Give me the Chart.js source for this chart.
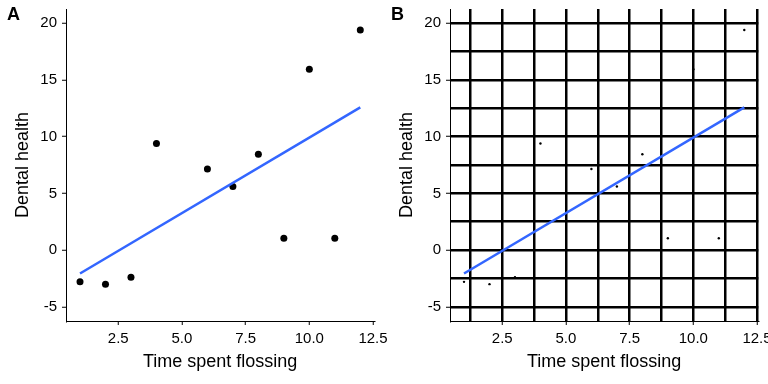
<!DOCTYPE html>
<html>
<head>
<meta charset="utf-8">
<script src="https://cdn.jsdelivr.net/npm/chart.js@4.4.0/dist/chart.umd.min.js"></script>
<style>
  body { margin: 0; background: #fff; }
  #wrap { position: relative; width: 768px; height: 384px; overflow: hidden; }
  canvas { position: absolute; top: 0; }
  #chartA { left: 0; }
  #chartB { left: 384px; }
  .tag { position: absolute; top: 4px; font: bold 18px "Liberation Sans", Arial, sans-serif; color: #000; }
</style>
</head>
<body>
<div id="wrap">
  <canvas id="chartA" width="400" height="384"></canvas>
  <canvas id="chartB" width="384" height="384"></canvas>
  <div class="tag" style="left:7px">A</div>
  <div class="tag" style="left:391px">B</div>
</div>
<script>
// values
const flossTime = [1, 2, 3, 4, 6, 7, 8, 9, 10, 11, 12];
const dentalHealth = [-2.8, -3.0, -2.4, 9.4, 7.15, 5.6, 8.45, 1.05, 15.95, 1.05, 19.4];
const fitTime = [1, 12];
const fitHealth = [-2.06, 12.58];

// ticks
const xTicks = [2.5, 5, 7.5, 10, 12.5];
const xTickLabels = ['2.5', '5.0', '7.5', '10.0', '12.5'];
const xMinor = [1.25, 3.75, 6.25, 8.75, 11.25];
const yTicks = [-5, 0, 5, 10, 15, 20];
const yTickLabels = ['-5', '0', '5', '10', '15', '20'];
const yMinor = [-2.5, 2.5, 7.5, 12.5, 17.5];

const xRange = [0.45, 12.55];
const yRange = [-6.25, 21.25];

Chart.defaults.font.family = '"Liberation Sans", Arial, sans-serif';
Chart.defaults.color = '#000';

function toPoints(xs, ys) {
  return xs.map((x, i) => ({ x: x, y: ys[i] }));
}

function axis(isX, ticks, labels, minor, range, title, withGrid) {
  let all = withGrid ? ticks.concat(minor).sort((a, b) => a - b) : ticks;
  return {
    type: 'linear',
    position: isX ? 'bottom' : 'left',
    min: range[0],
    max: range[1],
    afterBuildTicks: function (scale) {
      scale.ticks = all.map(v => ({ value: v }));
    },
    afterFit: function (scale) {
      if (isX) {
        scale.height = 63;
        scale.paddingLeft = 0;
        scale.paddingRight = 0;
      } else {
        scale.width = 66;
        scale.paddingTop = 0;
        scale.paddingBottom = 0;
      }
    },
    ticks: {
      autoSkip: false,
      maxRotation: 0,
      padding: 5,
      font: { size: 15 },
      color: '#000',
      callback: function (value) {
        let i = ticks.indexOf(value);
        return i >= 0 ? labels[i] : '';
      }
    },
    grid: {
      display: true,
      drawOnChartArea: withGrid,
      drawTicks: true,
      tickLength: 4,
      tickWidth: 1,
      lineWidth: 2.5,
      color: '#000',
      tickColor: ctx => ticks.indexOf(ctx.tick.value) >= 0 ? '#000' : 'rgba(0,0,0,0)'
    },
    border: { display: true, color: '#000', width: 1 },
    title: {
      display: true,
      text: title,
      font: { size: 18 },
      color: '#000',
      padding: isX ? { top: 0, bottom: 11 } : { top: 12, bottom: 0 }
    }
  };
}

function makeChart(id, withGrid, pointSize, padRight) {
  return new Chart(document.getElementById(id), {
    type: 'scatter',
    data: {
      datasets: [{
        data: toPoints(flossTime, dentalHealth),
        backgroundColor: '#000',
        borderWidth: 0,
        pointRadius: pointSize,
        order: 1
      }, {
        data: toPoints(fitTime, fitHealth),
        showLine: true,
        borderColor: '#3366FF',
        borderWidth: 2.5,
        pointRadius: 0,
        order: 0
      }]
    },
    options: {
      responsive: false,
      animation: false,
      layout: { padding: { left: 0, top: 9, right: padRight, bottom: 0 } },
      plugins: { legend: { display: false }, tooltip: { enabled: false } },
      scales: {
        x: axis(true, xTicks, xTickLabels, xMinor, xRange, 'Time spent flossing', withGrid),
        y: axis(false, yTicks, yTickLabels, yMinor, yRange, 'Dental health', withGrid)
      }
    }
  });
}

makeChart('chartA', false, 3.5, 25.7);
makeChart('chartB', true, 1.2, 9.7);
</script>
</body>
</html>
